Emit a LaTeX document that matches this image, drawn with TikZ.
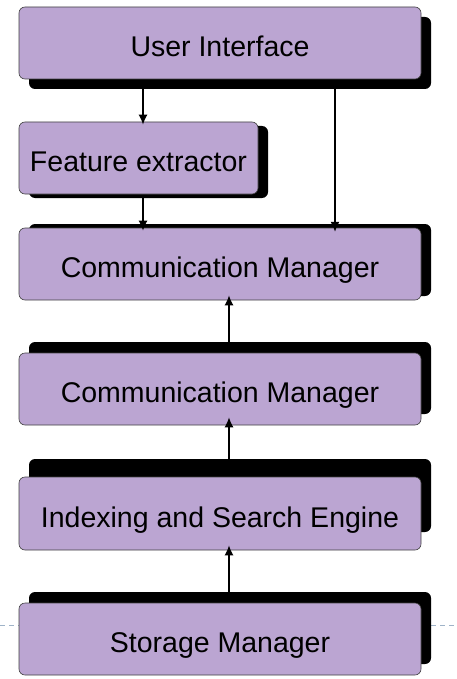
\documentclass[tikz,border=0pt]{standalone}
\usepackage{fontspec}
\setmainfont{Liberation Sans}
\usetikzlibrary{arrows.meta}
\definecolor{boxfill}{HTML}{BBA5D2}
\definecolor{dashc}{HTML}{9FB3C8}
\begin{document}
\begin{tikzpicture}[x=1pt,y=-1pt,
  box/.style={draw=black!75, line width=0.6pt, fill=boxfill, rounded corners=6pt, inner sep=0pt, font=\fontsize{28.5}{32}\selectfont, text height=28pt, text depth=1pt},
  shadowbox/.style={fill=black, rounded corners=6pt, inner sep=0pt},
  arr/.style={line width=1.5pt, -{Latex[length=10pt,width=9pt]}}]
\useasboundingbox (0,0) rectangle (457,679);
% dashed line
\draw[dashc, line width=0.6pt, dash pattern=on 5pt off 4pt] (0,625) -- (19,625);
\draw[dashc, line width=0.6pt, dash pattern=on 5pt off 4pt] (431,625) -- (457,625);
% shadows
\node[shadowbox, minimum width=402pt, minimum height=72pt] (uis) at (230,53) {};
\node[shadowbox, minimum width=239pt, minimum height=72pt] (fes) at (148.5,162) {};
\node[shadowbox, minimum width=402pt, minimum height=72pt] (cm1s) at (230,260) {};
\node[shadowbox, minimum width=402pt, minimum height=72pt] (cm2s) at (230,378) {};
\node[shadowbox, minimum width=402pt, minimum height=73pt] (iss) at (230,495.5) {};
\node[shadowbox, minimum width=402pt, minimum height=72pt] (sms) at (230,628) {};
% boxes
\node[box, minimum width=402pt, minimum height=72pt] (ui) at (220,43) {User Interface};
\node[box, minimum width=239pt, minimum height=72pt] (fe) at (138.5,158) {Feature extractor};
\node[box, minimum width=402pt, minimum height=72pt] (cm1) at (220,264) {Communication Manager};
\node[box, minimum width=402pt, minimum height=72pt] (cm2) at (220,389) {Communication Manager};
\node[box, minimum width=402pt, minimum height=73pt] (is) at (220,513.5) {Indexing and Search Engine};
\node[box, minimum width=402pt, minimum height=72pt] (sm) at (220,639) {Storage Manager};
% arrows
\coordinate (xa) at (143,0);
\coordinate (xb) at (335,0);
\coordinate (xc) at (229,0);
\draw[arr] (uis.south -| xa) -- ([yshift=-3pt]fe.north -| xa);
\draw[arr] (uis.south -| xb) -- ([yshift=-8pt]cm1s.north -| xb);
\draw[arr] (fes.south -| xa) -- ([yshift=-3pt]cm1.north -| xa);
\draw[arr] (cm2s.north -| xc) -- ([yshift=5pt]cm1.south -| xc);
\draw[arr] (iss.north -| xc) -- ([yshift=8pt]cm2.south -| xc);
\draw[arr] (sms.north -| xc) -- ([yshift=5pt]is.south -| xc);
\end{tikzpicture}
\end{document}
